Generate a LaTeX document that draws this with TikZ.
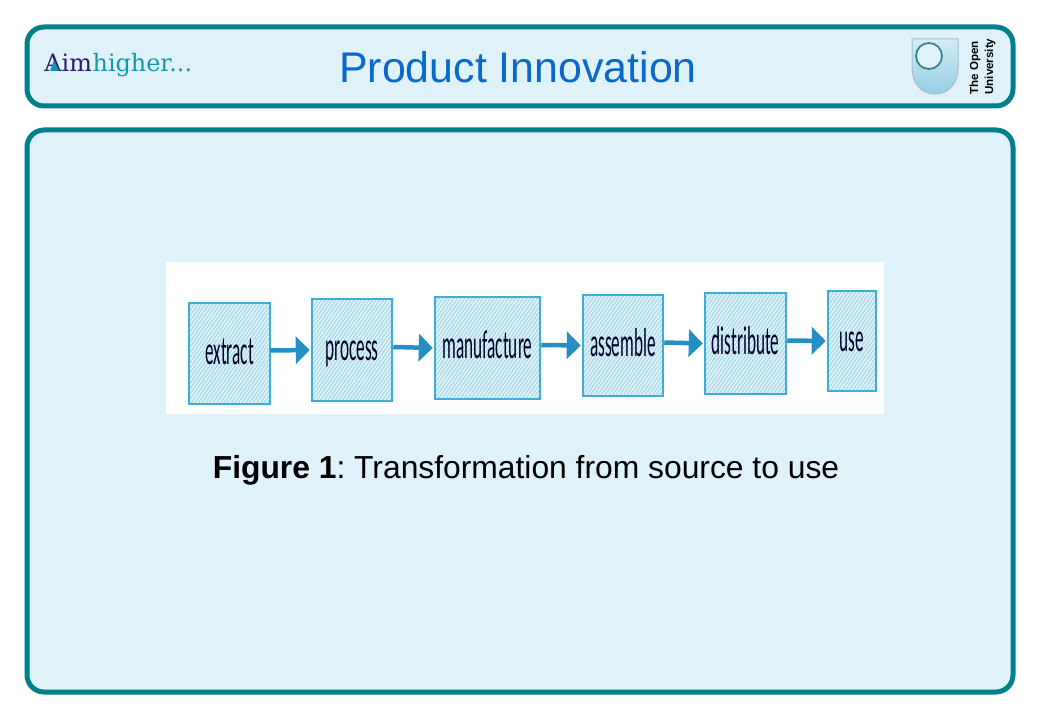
\documentclass[tikz,border=0pt]{standalone}
\usepackage{fontspec}
\usepackage{graphicx}
\setmainfont{Liberation Sans}
\newfontfamily\boxfont{Carlito}
\newfontfamily\logofont{DejaVu Serif}
\usetikzlibrary{arrows.meta,patterns.meta,positioning}
\definecolor{rim}{RGB}{0,128,138}
\definecolor{pane}{RGB}{224,242,249}
\definecolor{ttl}{RGB}{10,104,205}
\definecolor{boxbg}{RGB}{176,222,238}
\definecolor{boxln}{RGB}{62,172,214}
\definecolor{arr}{RGB}{36,143,198}
\definecolor{aimc}{RGB}{44,26,110}
\definecolor{highc}{RGB}{20,150,175}
\tikzset{
  panel/.style={draw=rim,line width=1mm,fill=pane,rounded corners=3.4mm},
  stagebox/.style={rectangle,draw=boxln,line width=.5mm,inner sep=0pt,
    preaction={fill=boxbg},
    pattern={Lines[angle=55,distance=1.7pt,line width=.55pt]},pattern color=white!85!boxbg},
  flow/.style={-{Triangle[length=2.8mm,width=5.4mm]},draw=arr,line width=.9mm,shorten >=.2mm},
  oulabel/.style={font=\bfseries\fontsize{6.6}{8}\selectfont,rotate=90,anchor=west,inner sep=0pt}
}
\newcommand{\stagetext}[1]{\scalebox{.49}[1.15]{\boxfont\fontsize{20}{20}\selectfont\color{black!85!blue}\vphantom{dp}#1}}
\begin{document}
\begin{tikzpicture}[x=.2mm,y=-.2mm]
  \useasboundingbox (0,0) rectangle (1040,720);

  % Header and body panels
  \draw[panel] (27,27) rectangle (1013,106);
  \draw[panel] (27,130) rectangle (1013,692);

  % Title
  \node[ttl,font=\fontsize{24.4}{30}\selectfont] (title) at (518,67) {Product Innovation};

  % Aimhigher logo
  \node[aimc,font=\logofont\fontsize{13.6}{16}\selectfont,anchor=base west,inner sep=0pt] (aim) at (44,72) {Aim};
  \node[highc,font=\logofont\fontsize{13.6}{16}\selectfont,anchor=base west,inner sep=0pt] (high) at (aim.base east) {higher...};
  \fill[highc] (50,71) -- (54,60) -- (59,71) -- cycle;

  % Open University shield
  \shade[top color=pane!70!boxbg,bottom color=boxbg!80!arr,draw=boxbg!70!gray,line width=.2mm]
    (912,39) -- (958,39) -- (958,68) .. controls (958,84) and (948,94) .. (935,94)
    .. controls (922,94) and (912,84) .. (912,68) -- cycle;
  \draw[rim!55!gray,line width=.35mm,fill=pane] (929,56) circle (13);
  \node[oulabel] (the) at (975,95) {The Open};
  \node[oulabel] (uni) at (990,95) {University};

  % White strip behind the chain
  \fill[white] (166,262) rectangle (884,414);

  % The six stages
  \node[stagebox,minimum width=16.2mm,minimum height=20.2mm] (extract) at (229.5,353.5) {\stagetext{extract}};
  \node[stagebox,minimum width=16mm,minimum height=20.4mm] (process) at (352,350) {\stagetext{process}};
  \node[stagebox,minimum width=21mm,minimum height=20.4mm] (manufacture) at (487.5,348) {\stagetext{manufacture}};
  \node[stagebox,minimum width=16mm,minimum height=20.2mm] (assemble) at (623,345.5) {\stagetext{assemble}};
  \node[stagebox,minimum width=16.2mm,minimum height=20.2mm] (distribute) at (745.5,343.5) {\stagetext{distribute}};
  \node[stagebox,minimum width=9.6mm,minimum height=20mm] (use) at (852,341) {\stagetext{use}};

  % Arrows between stages
  \foreach \a/\b in {extract/process,process/manufacture,manufacture/assemble,assemble/distribute,distribute/use}
    \draw[flow] ([yshift=.6mm]\a.east) -- (\b.west);

  % Caption
  \node[font=\fontsize{18.1}{22}\selectfont] (caption) at (526,470) {\frenchspacing\textbf{Figure 1}: Transformation from source to use};
\end{tikzpicture}
\end{document}
